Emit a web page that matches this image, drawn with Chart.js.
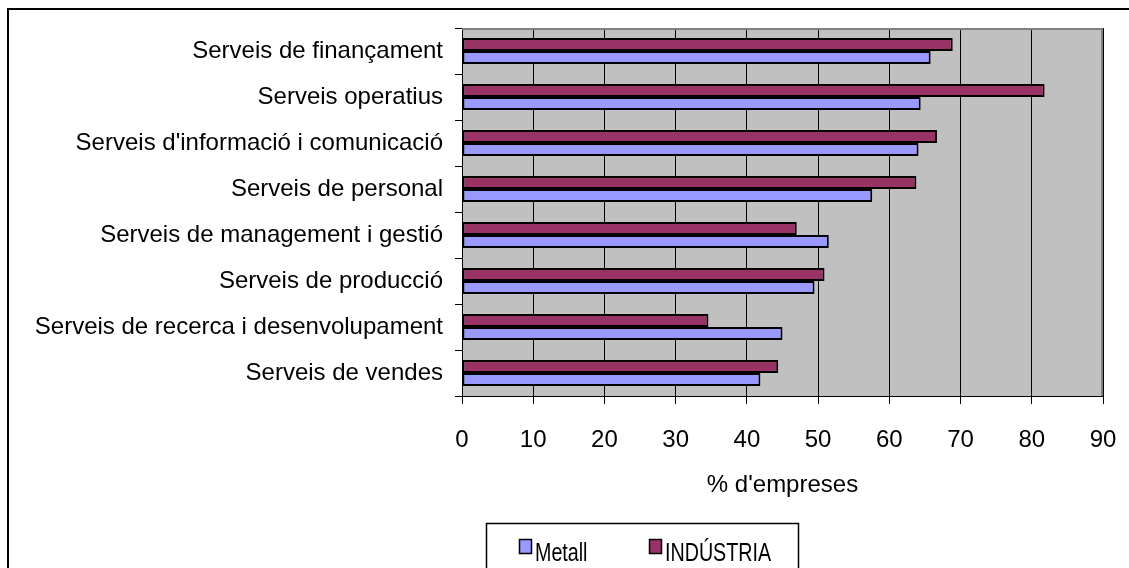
<!DOCTYPE html>
<html>
<head>
<meta charset="utf-8">
<script src="https://cdn.jsdelivr.net/npm/chart.js@4.4.0/dist/chart.umd.min.js"></script>
<style>
  html, body { margin: 0; padding: 0; background: #fff; }
  #wrap { width: 1129px; height: 568px; position: relative; }
</style>
</head>
<body>
<div id="wrap"><canvas id="BarChart"></canvas></div>
<script>
var categories = [
  "Serveis de finançament",
  "Serveis operatius",
  "Serveis d'informació i comunicació",
  "Serveis de personal",
  "Serveis de management i gestió",
  "Serveis de producció",
  "Serveis de recerca i desenvolupament",
  "Serveis de vendes"
];
var metall    = [65.8, 64.4, 64.1, 57.6, 51.5, 49.5, 45.0, 41.9];
var industria = [68.9, 81.8, 66.7, 63.8, 47.0, 50.9, 34.6, 44.4];
var xTicks = [0, 10, 20, 30, 40, 50, 60, 70, 80, 90];

var FONT = '"Liberation Sans", Arial, sans-serif';

// grey plot area, outer frame and the boxed legend
var frame = {
  id: 'frame',
  beforeDraw: function(chart) {
    var c = chart.ctx, a = chart.chartArea;
    c.save();
    c.fillStyle = '#fff';
    c.fillRect(0, 0, chart.width, chart.height);
    c.fillStyle = '#c0c0c0';
    c.fillRect(a.left, a.top, a.right - a.left, a.bottom - a.top);
    c.restore();
  },
  beforeDatasetsDraw: function(chart) {
    var c = chart.ctx, a = chart.chartArea;
    c.save();
    c.strokeStyle = '#808080';
    c.lineWidth = 2;
    c.beginPath();
    c.moveTo(a.left, a.top + 1);
    c.lineTo(a.right - 1, a.top + 1);
    c.lineTo(a.right - 1, a.bottom);
    c.stroke();
    c.restore();
  },
  afterDraw: function(chart) {
    var c = chart.ctx;
    c.save();
    c.strokeStyle = '#000';
    c.lineWidth = 2;
    c.strokeRect(8, 9, 1140, 600);
    c.lineWidth = 1.5;
    c.strokeRect(486.5, 523.5, 312, 60);
    var items = [chart.data.datasets[1], chart.data.datasets[0]];
    var xs = [519, 649];
    c.font = '24px ' + FONT;
    c.textBaseline = 'alphabetic';
    items.forEach(function(ds, i) {
      c.fillStyle = ds.backgroundColor;
      c.fillRect(xs[i], 539, 12, 14);
      c.lineWidth = 1.5;
      c.strokeStyle = '#000';
      c.strokeRect(xs[i] + 0.5, 539.5, 12, 14);
      c.fillStyle = '#000';
      c.save();
      c.translate(xs[i] + 16, 561);
      c.scale(0.82, 1.05);
      c.fillText(ds.label, 0, 0);
      c.restore();
    });
    c.restore();
  }
};

var ctx = document.getElementById("BarChart").getContext('2d');

var myChart = new Chart(ctx, {
  type: 'bar',
  data: {
    labels: categories,
    datasets: [{
      label: 'INDÚSTRIA',
      data: industria,
      backgroundColor: '#993366',
      borderColor: '#000',
      borderWidth: 2,
      borderSkipped: false
    }, {
      label: 'Metall',
      data: metall,
      backgroundColor: '#9999ff',
      borderColor: '#000',
      borderWidth: 2,
      borderSkipped: false
    }]
  },
  options: {
    indexAxis: 'y',
    responsive: true,
    maintainAspectRatio: false,
    animation: false,
    categoryPercentage: 0.57,
    barPercentage: 1,
    layout: { padding: { top: 28, left: 10, right: 26, bottom: 0 } },
    plugins: {
      legend: { display: false },
      tooltip: { enabled: false }
    },
    scales: {
      x: {
        min: xTicks[0],
        max: xTicks[xTicks.length - 1],
        ticks: {
          stepSize: 10,
          color: '#000',
          padding: 21.6,
          font: { family: FONT, size: 24 }
        },
        grid: { color: '#000', tickLength: 8, tickColor: '#000' },
        border: { color: '#000', width: 1 },
        title: {
          display: true,
          text: "% d'empreses",
          color: '#000',
          font: { family: FONT, size: 24 },
          padding: { top: -5.4, bottom: 68.6 }
        },
        afterFit: function(s) { s.paddingLeft = 0; s.paddingRight = 0; }
      },
      y: {
        ticks: {
          color: '#000',
          padding: 12,
          font: { family: FONT, size: 24 }
        },
        grid: { drawOnChartArea: false, tickLength: 7, tickColor: '#000', offset: true },
        border: { color: '#000', width: 1 },
        afterFit: function(s) { s.width = 452; }
      }
    }
  },
  plugins: [frame]
});
</script>
</body>
</html>
